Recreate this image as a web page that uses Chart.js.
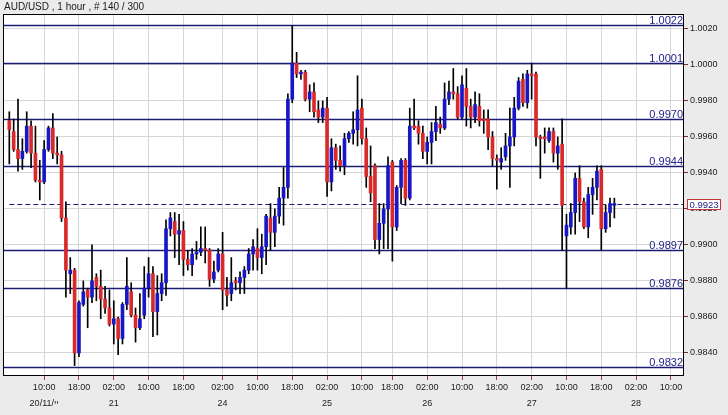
<!DOCTYPE html>
<html><head><meta charset="utf-8">
<script src="https://cdn.jsdelivr.net/npm/chart.js@4.4.1/dist/chart.umd.min.js"></script>
<style>html,body{margin:0;padding:0;background:#ebebeb;}canvas{display:block;}</style>
</head><body>
<canvas id="c" width="728" height="415"></canvas>
<script>
const chartTitle = "AUD/USD , 1 hour , # 140 / 300";

const openP = [
.9969,.9963,.9953,.9948,.9952,.9966,.9951,.9936,.9935,.9953,
.9965,.9951,.9950,.9915,.9884,.9886,.9840,.9867,.9875,.9871,
.9882,.9877,.9870,.9865,.9856,.9859,.9848,.9867,.9874,.9861,
.9854,.9861,.9876,.9884,.9863,.9873,.9879,.9909,.9913,.9906,
.9908,.9892,.9889,.9895,.9896,.9898,.9897,.9881,.9886,.9895,
.9875,.9873,.9880,.9879,.9882,.9886,.9895,.9898,.9893,.9899,
.9915,.9907,.9916,.9926,.9932,.9981,1.0001,.9995,.9996,.9981,
.9985,.9975,.9971,.9976,.9935,.9954,.9947,.9944,.9959,.9962,
.9964,.9976,.9959,.9938,.9944,.9903,.9912,.9920,.9946,.9910,
.9932,.9947,.9926,.9966,.9966,.9962,.9952,.9957,.9963,.9967,
.9965,.9981,.9985,.9984,.9971,.9987,.9977,.9971,.9977,.9970,
.9970,.9960,.9948,.9946,.9949,.9955,.9960,.9976,.9992,.9979,
.9995,.9995,.9960,.9960,.9958,.9963,.9951,.9956,.9905,.9910,
.9918,.9937,.9924,.9910,.9928,.9932,.9942,.9909,.9918,.9922];

const highP = [
.9974,.9970,.9981,.9959,.9974,.9969,.9966,.9947,.9958,.9966,
.9973,.9960,.9952,.9924,.9893,.9887,.9869,.9880,.9876,.9900,
.9884,.9886,.9877,.9875,.9869,.9860,.9868,.9893,.9879,.9865,
.9873,.9888,.9893,.9888,.9883,.9884,.9914,.9918,.9918,.9917,
.9913,.9897,.9898,.9902,.9910,.9910,.9898,.9891,.9898,.9907,
.9882,.9893,.9882,.9885,.9888,.9898,.9903,.9909,.9906,.9917,
.9923,.9920,.9932,.9943,.9984,1.0022,1.0007,.9997,.9997,.9989,
.9990,.9980,.9980,.9982,.9959,.9956,.9955,.9962,.9963,.9974,
.9994,.9981,.9965,.9955,.9945,.9923,.9923,.9949,.9947,.9933,
.9948,.9948,.9976,.9981,.9969,.9966,.9960,.9968,.9977,.9971,
.9990,.9991,.9998,.9988,.9994,.9998,.9981,.9985,.9984,.9975,
.9975,.9963,.9950,.9954,.9962,.9976,.9982,.9993,.9995,.9997,
1.0001,.9996,.9961,.9965,.9965,.9965,.9960,.9970,.9917,.9923,
.9940,.9944,.9926,.9932,.9937,.9944,.9944,.9922,.9926,.9926];

const lowP = [
.9945,.9952,.9941,.9942,.9951,.9943,.9935,.9925,.9934,.9952,
.9948,.9945,.9913,.9871,.9873,.9833,.9838,.9866,.9854,.9868,
.9869,.9859,.9862,.9855,.9845,.9839,.9845,.9864,.9860,.9846,
.9853,.9859,.9871,.9849,.9850,.9869,.9872,.9905,.9893,.9889,
.9883,.9886,.9883,.9892,.9894,.9890,.9877,.9879,.9885,.9864,
.9866,.9869,.9875,.9873,.9873,.9884,.9886,.9886,.9884,.9889,
.9897,.9899,.9912,.9911,.9926,.9979,.9993,.9992,.9980,.9974,
.9971,.9968,.9968,.9927,.9930,.9942,.9941,.9939,.9957,.9956,
.9955,.9956,.9932,.9924,.9898,.9895,.9898,.9898,.9891,.9908,
.9923,.9922,.9925,.9964,.9956,.9948,.9945,.9945,.9958,.9962,
.9964,.9978,.9981,.9970,.9970,.9966,.9965,.9968,.9966,.9962,
.9953,.9944,.9931,.9942,.9947,.9932,.9955,.9975,.9977,.9976,
.9981,.9955,.9937,.9951,.9957,.9946,.9942,.9897,.9876,.9906,
.9906,.9913,.9909,.9904,.9917,.9925,.9897,.9907,.9910,.9915];

const closeP = [
.9964,.9953,.9948,.9952,.9966,.9951,.9936,.9935,.9953,.9965,
.9951,.9950,.9915,.9886,.9886,.9840,.9868,.9874,.9871,.9880,
.9877,.9870,.9865,.9856,.9859,.9848,.9867,.9877,.9861,.9854,
.9859,.9876,.9884,.9863,.9873,.9879,.9909,.9915,.9906,.9908,
.9892,.9889,.9895,.9896,.9898,.9897,.9881,.9885,.9895,.9875,
.9872,.9879,.9879,.9882,.9886,.9895,.9899,.9893,.9899,.9916,
.9907,.9916,.9926,.9932,.9981,1.0001,.9995,.9996,.9981,.9985,
.9974,.9971,.9976,.9935,.9954,.9947,.9944,.9959,.9962,.9964,
.9975,.9959,.9938,.9929,.9903,.9912,.9920,.9944,.9910,.9932,
.9947,.9926,.9966,.9965,.9962,.9952,.9957,.9963,.9968,.9965,
.9981,.9985,.9984,.9971,.9989,.9977,.9971,.9978,.9969,.9969,
.9960,.9948,.9947,.9948,.9955,.9960,.9976,.9991,.9979,.9995,
.9994,.9960,.9959,.9959,.9963,.9951,.9955,.9922,.9911,.9918,
.9937,.9924,.9910,.9928,.9932,.9941,.9909,.9918,.9923,.9923];

const xTickIdx    = [8, 16, 24, 32, 40, 49, 57, 65, 73, 81, 88, 96, 104, 112, 120, 128, 136, 144, 152];
const xTimeLabels = ["10:00","18:00","02:00","10:00","18:00","02:00","10:00","18:00","02:00","10:00",
                     "18:00","02:00","10:00","18:00","02:00","10:00","18:00","02:00","10:00"];
const xDateLabels = ["20/11/יי","","21","","","24","","","25","","","26","","","27","","","28",""];
const yTicks = [0.9840, 0.9860, 0.9880, 0.9900, 0.9920, 0.9940, 0.9960, 0.9980, 1.0000, 1.0020];
const levelLines = [1.0022, 1.0001, 0.9970, 0.9944, 0.9897, 0.9876, 0.9832];
const lastPrice = 0.9923;

const RED = '#d82a2a', BLUE = '#1717c6', NAVY = '#1c1c74', NAVY_TXT = '#22228c';
const FONT = "'Liberation Sans', Arial, sans-serif";

const idx = openP.map((_, i) => i);
const wickData = idx.map(i => ({x: i, y: [lowP[i], highP[i]]}));
const bodyData = idx.map(i => ({x: i, y: [openP[i], closeP[i]]}));
const bodyColors = idx.map(i => closeP[i] > openP[i] ? BLUE : (closeP[i] < openP[i] ? RED : '#000'));

const decor = {
  id: 'decor',
  beforeDraw(chart) {
    const {ctx, chartArea: a} = chart;
    ctx.save();
    ctx.fillStyle = '#ebebeb';
    ctx.fillRect(0, 0, chart.width, chart.height);
    ctx.fillStyle = '#ffffff';
    ctx.fillRect(a.left, a.top, a.right - a.left, a.bottom - a.top);
    ctx.restore();
  },
  beforeDatasetsDraw(chart) {
    const {ctx, chartArea: a, scales: {x, y}} = chart;
    ctx.save();
    ctx.strokeStyle = NAVY;
    ctx.lineWidth = 1.3;
    levelLines.forEach(v => {
      const py = Math.round(y.getPixelForValue(v)) + 0.5;
      ctx.beginPath(); ctx.moveTo(a.left, py); ctx.lineTo(a.right, py); ctx.stroke();
    });
    const pl = Math.round(y.getPixelForValue(lastPrice)) + 0.5;
    ctx.lineWidth = 1;
    ctx.setLineDash([5, 3]);
    ctx.beginPath(); ctx.moveTo(x.getPixelForValue(0), pl); ctx.lineTo(a.right, pl); ctx.stroke();
    ctx.restore();
  },
  afterDraw(chart) {
    const {ctx, chartArea: a, scales: {y}} = chart;
    ctx.save();
    // level labels
    ctx.fillStyle = NAVY_TXT;
    ctx.font = '11px ' + FONT;
    ctx.textAlign = 'right';
    ctx.textBaseline = 'alphabetic';
    levelLines.forEach(v => {
      const py = Math.round(y.getPixelForValue(v));
      ctx.fillText(v.toFixed(4), a.right - 1, py - 1);
    });
    // border
    ctx.strokeStyle = '#000';
    ctx.lineWidth = 1;
    ctx.strokeRect(a.left + 0.5, a.top + 0.5, a.right - a.left - 1, a.bottom - a.top - 1);
    // last price box
    const pl = Math.round(y.getPixelForValue(lastPrice));
    ctx.fillStyle = '#ffffff';
    ctx.fillRect(687.5, pl - 4.5, 33, 10);
    ctx.strokeStyle = '#c83232';
    ctx.strokeRect(687.5, pl - 4.5, 33, 10);
    ctx.fillStyle = NAVY_TXT;
    ctx.font = '9.5px ' + FONT;
    ctx.textAlign = 'center';
    ctx.textBaseline = 'middle';
    ctx.fillText(lastPrice.toFixed(4), 704, pl + 1);
    // title
    ctx.fillStyle = '#1a1a1a';
    ctx.font = '10px ' + FONT;
    ctx.textAlign = 'left';
    ctx.textBaseline = 'alphabetic';
    ctx.fillText(chartTitle, 4, 10);
    ctx.restore();
  }
};

new Chart(document.getElementById('c'), {
  type: 'bar',
  data: {
    datasets: [
      {data: wickData, backgroundColor: '#000', barThickness: 1, grouped: false, order: 1, borderWidth: 0},
      {data: bodyData, backgroundColor: bodyColors, barThickness: 3, grouped: false, order: 0, borderWidth: 0, minBarLength: 1}
    ]
  },
  options: {
    responsive: false,
    animation: false,
    devicePixelRatio: 1,
    layout: {padding: {left: 3, top: 14, right: 0, bottom: 0}},
    plugins: {legend: {display: false}, tooltip: {enabled: false}, title: {display: false}},
    scales: {
      x: {
        type: 'linear', position: 'bottom', min: -1.45, max: 155, offset: false,
        grid: {color: '#d6d6d6', tickColor: '#a04040', tickLength: 4, offset: false},
        border: {display: false},
        afterBuildTicks: s => { s.ticks = xTickIdx.map(v => ({value: v})); },
        afterFit: s => { s.height = 39; },
        ticks: {
          autoSkip: false, maxRotation: 0, minRotation: 0, padding: 0, color: '#1a1a1a',
          font: {family: FONT, size: 9, lineHeight: '16px'},
          callback: (v) => {
            const k = xTickIdx.indexOf(v);
            if (k < 0) return '';
            return xDateLabels[k] ? [xTimeLabels[k], xDateLabels[k]] : xTimeLabels[k];
          }
        }
      },
      y: {
        type: 'linear', position: 'right', min: 0.98272, max: 1.00283,
        grid: {color: '#d6d6d6', tickColor: '#703030', tickLength: 4},
        border: {display: false},
        afterBuildTicks: s => { s.ticks = yTicks.map(v => ({value: v})); },
        afterFit: s => { s.width = 44; },
        ticks: {
          padding: 2, color: '#1a1a1a',
          font: {family: FONT, size: 9},
          callback: v => Number(v).toFixed(4)
        }
      }
    }
  },
  plugins: [decor]
});
</script>
</body></html>
